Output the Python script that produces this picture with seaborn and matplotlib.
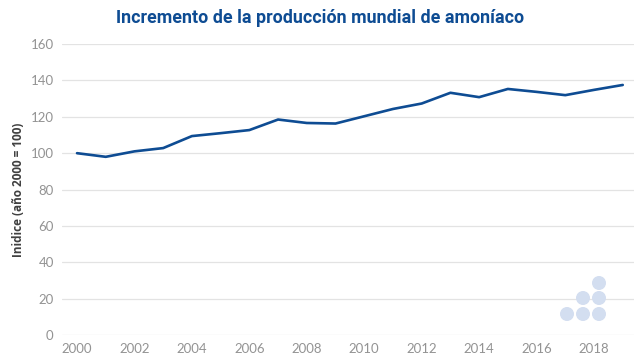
import matplotlib
matplotlib.use("Agg")
import matplotlib.pyplot as plt
import seaborn as sns
import pandas as pd
from matplotlib.patches import Ellipse

years = list(range(2000, 2020))
index_values = [100, 98, 101, 102.8, 109.4, 111, 112.7, 118.5, 116.6, 116.3,
                120.3, 124.3, 127.3, 133.2, 130.8, 135.3, 133.7, 131.9, 134.8, 137.5]
xtick_years = list(range(2000, 2019, 2))
yticks = list(range(0, 161, 20))

title = "Incremento de la producción mundial de amoníaco"
ylabel = "Inidice (año 2000 = 100)"

df = pd.DataFrame({"year": years, "value": index_values})

sns.set_theme(style="white")
fig = plt.figure(figsize=(6.4, 3.58), dpi=100)
ax = fig.add_axes([0.097, 0.064, 0.894, 0.813])

sns.lineplot(data=df, x="year", y="value", ax=ax, color="#0e4c93", linewidth=1.9)

ax.set_xlim(1999.48, 2019.4)
ax.set_ylim(0, 160)
ax.set_xticks(xtick_years)
ax.set_yticks(yticks)
ax.tick_params(axis="both", length=0, labelsize=9.5, labelcolor="#939393", pad=6)
for lab in ax.get_xticklabels() + ax.get_yticklabels():
    lab.set_fontfamily("Lato")
ax.grid(axis="y", color="#e3e3e3", linewidth=0.9)
ax.set_axisbelow(True)
for s in ax.spines.values():
    s.set_visible(False)
ax.set_xlabel("")
ax.set_ylabel(ylabel, fontsize=8.5, fontweight="bold", color="#404040",
              fontfamily="Open Sans", labelpad=4)

fig.text(0.5, 0.95, title, ha="center", va="center", fontsize=12.9,
         fontweight="bold", color="#0e4c93", fontfamily="Roboto")

# decorative logo dots
W, H = 640, 358
r = 6.3
for (px, py) in [(567, 314), (583, 314), (599, 314), (583, 298), (599, 298), (599, 283)]:
    fig.patches.append(Ellipse((px / W, 1 - py / H), 2 * r / W, 2 * r / H,
                               transform=fig.transFigure, color="#d3def0", zorder=0))

fig.savefig("out.png", dpi=100)
